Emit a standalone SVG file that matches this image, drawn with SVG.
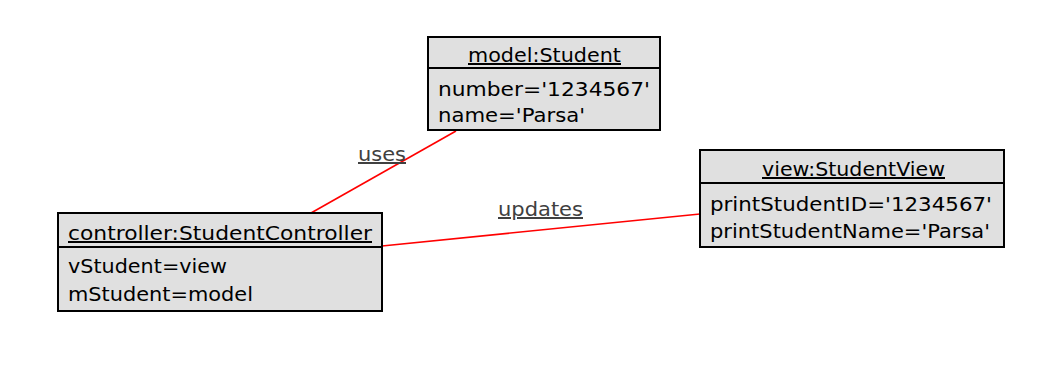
<svg xmlns="http://www.w3.org/2000/svg" width="1058" height="368" viewBox="0 0 1058 368">
  <style>
    .box { fill: #e0e0e0; stroke: #000; stroke-width: 2; }
    .sep { stroke: #000; stroke-width: 2; }
    .t { font-family: "DejaVu Sans", Verdana, sans-serif; font-size: 20px; fill: #000; }
    .title { text-decoration: underline; }
    .link { stroke: #ff0000; stroke-width: 1.6; fill: none; }
    .lbl { font-family: "DejaVu Sans", Verdana, sans-serif; font-size: 20px; fill: #404040; text-decoration: underline; }
  </style>
  <rect width="1058" height="368" fill="#fff"/>

  <!-- associations between the objects -->
  <g id="connectors">
    <line class="link" x1="456" y1="131" x2="311" y2="213"/>
    <text class="lbl" x="358" y="161" textLength="48" lengthAdjust="spacingAndGlyphs">uses</text>
    <line class="link" x1="382" y1="246" x2="700" y2="214"/>
    <text class="lbl" x="498" y="216" textLength="85" lengthAdjust="spacingAndGlyphs">updates</text>
  </g>

  <g id="model">
    <rect class="box" x="428" y="37" width="232" height="93"/>
    <line class="sep" x1="428" y1="68" x2="660" y2="68"/>
    <text class="t title" x="468" y="62" textLength="153" lengthAdjust="spacingAndGlyphs">model:Student</text>
    <text class="t" x="438" y="96" textLength="212" lengthAdjust="spacingAndGlyphs">number='1234567'</text>
    <text class="t" x="438" y="122" textLength="147" lengthAdjust="spacingAndGlyphs">name='Parsa'</text>
  </g>

  <g id="controller">
    <rect class="box" x="58" y="213" width="324" height="98"/>
    <line class="sep" x1="58" y1="247" x2="382" y2="247"/>
    <text class="t title" x="68" y="240" textLength="304" lengthAdjust="spacingAndGlyphs">controller:StudentController</text>
    <text class="t" x="68" y="273" textLength="159" lengthAdjust="spacingAndGlyphs">vStudent=view</text>
    <text class="t" x="68" y="301" textLength="185" lengthAdjust="spacingAndGlyphs">mStudent=model</text>
  </g>

  <g id="view">
    <rect class="box" x="700" y="150" width="304" height="97"/>
    <line class="sep" x1="700" y1="183" x2="1004" y2="183"/>
    <text class="t title" x="762" y="176" textLength="183" lengthAdjust="spacingAndGlyphs">view:StudentView</text>
    <text class="t" x="710" y="211" textLength="282" lengthAdjust="spacingAndGlyphs">printStudentID='1234567'</text>
    <text class="t" x="710" y="238" textLength="280" lengthAdjust="spacingAndGlyphs">printStudentName='Parsa'</text>
  </g>
</svg>
